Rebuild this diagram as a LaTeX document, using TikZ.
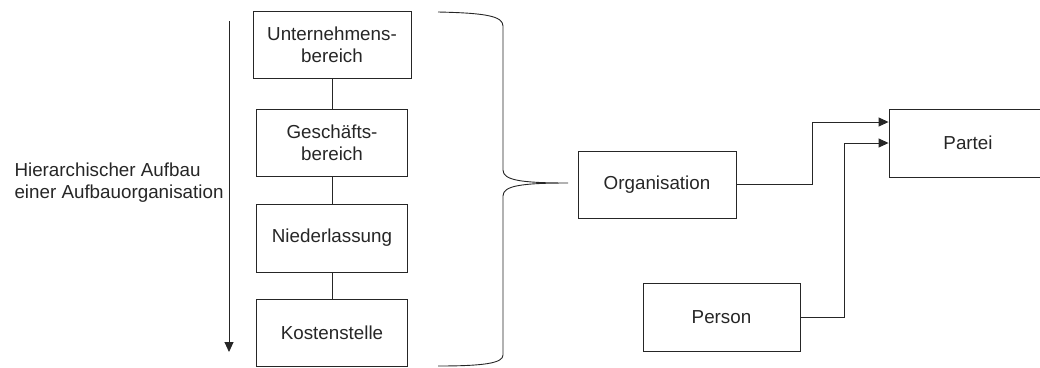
\documentclass[tikz,border=0pt]{standalone}
\usepackage{fontspec}
\setmainfont{Liberation Sans}
\usetikzlibrary{arrows.meta}

\begin{document}
\begin{tikzpicture}[x=1pt, y=-1pt, font=\fontsize{18.8}{21.8}\selectfont, line width=0.9pt, draw=black!85, text=black!85]

    \clip (0,0) rectangle (1040,367);

    \begin{scope} %hierarchy
        \node[anchor=east, align=left, inner sep=0pt] (label) at (224,183) {Hierarchischer Aufbau\\einer Aufbauorganisation};
        \coordinate (arrtop) at (229,21);
        \coordinate (arrbot) at (229,352);
        \draw [-{Triangle[length=10pt,width=9pt]}] (arrtop) -- (arrbot);
        \begin{scope}[every node/.style={draw, align=center, minimum width=151pt, minimum height=67pt, inner sep=0pt}]
            \node (ub) at (332,45) [minimum width=158pt] {Unternehmens-\\bereich};
            \node (gb) at (332,142.5) {Geschäfts-\\bereich};
            \node (nl) at (332,238) [minimum height=68pt] {Niederlassung};
            \node (ks) at (332,332.5) {Kostenstelle};
        \end{scope}
        \path [-] (ub) edge (gb);
        \path [-] (gb) edge (nl);
        \path [-] (nl) edge (ks);
    \end{scope}

    \begin{scope} %brace
        \draw (438,12) .. controls (485,13) and (503,16) .. (503,26) -- (503,170)
              .. controls (503,180) and (520,183) .. (568,183)
              .. controls (520,183) and (503,186) .. (503,196) -- (503,355)
              .. controls (503,363) and (485,366) .. (438,366);
    \end{scope}

    \begin{scope} %parties
        \begin{scope}[every node/.style={draw, minimum width=158pt, minimum height=67pt, inner sep=0pt}]
            \node (org) at (657,184.5) {Organisation};
            \node (partei) at (968,143) [minimum height=68pt] {Partei};
            \node (person) at (721.5,317) [minimum width=157pt, minimum height=68pt] {Person};
        \end{scope}
        \draw [-{Triangle[length=10pt,width=9pt]}] (org.east) -- ++(76,0) |- ([yshift=21pt]partei.west);
        \draw [-{Triangle[length=10pt,width=9pt]}] (person.east) -- ++(44,0) |- (partei.west);
    \end{scope}

\end{tikzpicture}
\end{document}
